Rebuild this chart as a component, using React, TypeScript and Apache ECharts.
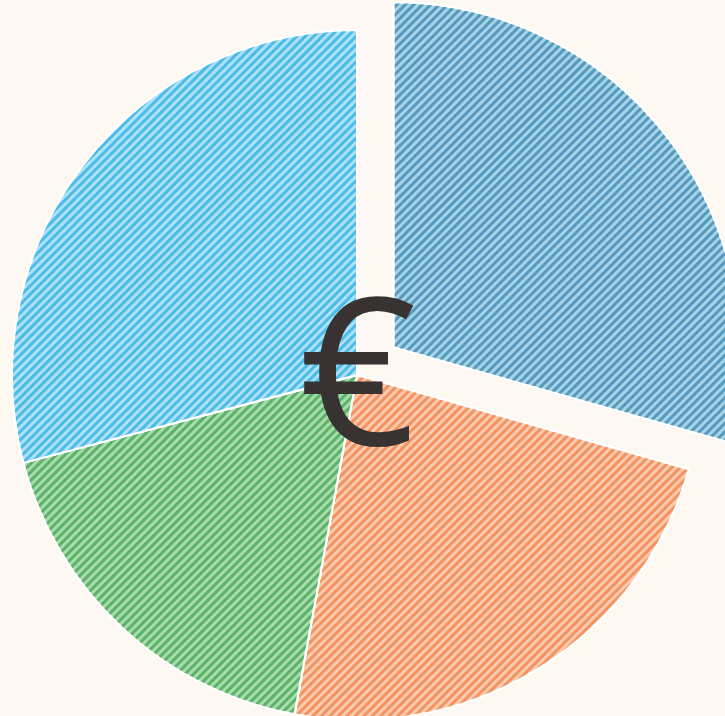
import React, { useEffect, useRef } from "react";
import * as echarts from "echarts";

const categories = ["A", "B", "C", "D"];
const values = [29.4, 23.5, 18.0, 29.1];
const baseColors = ["#a6d4e7", "#fccbaf", "#a8dcab", "#ade1f7"];
const stripeColors = ["#5599bd", "#f29360", "#5cb26a", "#4dbbe9"];
const centerLabel = "€";

export default function App() {
  const ref = useRef<HTMLDivElement>(null);
  useEffect(() => {
    if (!ref.current) return;
    const chart = echarts.init(ref.current, null, { renderer: "svg" });
    chart.setOption({
      animation: false,
      backgroundColor: "#fdf9f2",
      graphic: [
        {
          type: "text",
          left: 357 - 58,
          top: 372 - 109,
          z: 100,
          style: {
            text: centerLabel,
            fontFamily: "Open Sans",
            fontSize: 205,
            fill: "#383332",
          },
        },
      ],
      series: [
        {
          type: "pie",
          center: [357, 375],
          radius: [0, 345],
          startAngle: 90,
          clockwise: true,
          selectedMode: "single",
          selectedOffset: 46,
          label: { show: false },
          labelLine: { show: false },
          emphasis: { disabled: true },
          itemStyle: { borderColor: "#ffffff", borderWidth: 2 },
          data: categories.map((name, i) => ({
            name,
            value: values[i],
            selected: i === 0,
            itemStyle: {
              color: baseColors[i],
              decal: {
                symbol: "rect",
                color: stripeColors[i],
                dashArrayX: [1, 0],
                dashArrayY: [2.5, 2.5],
                rotation: -Math.PI / 4,
              },
            },
          })),
        },
      ],
    });
    return () => chart.dispose();
  }, []);
  return (
    <div
      ref={ref}
      style={{ position: "fixed", left: 0, top: 0, width: 725, height: 716 }}
    />
  );
}
